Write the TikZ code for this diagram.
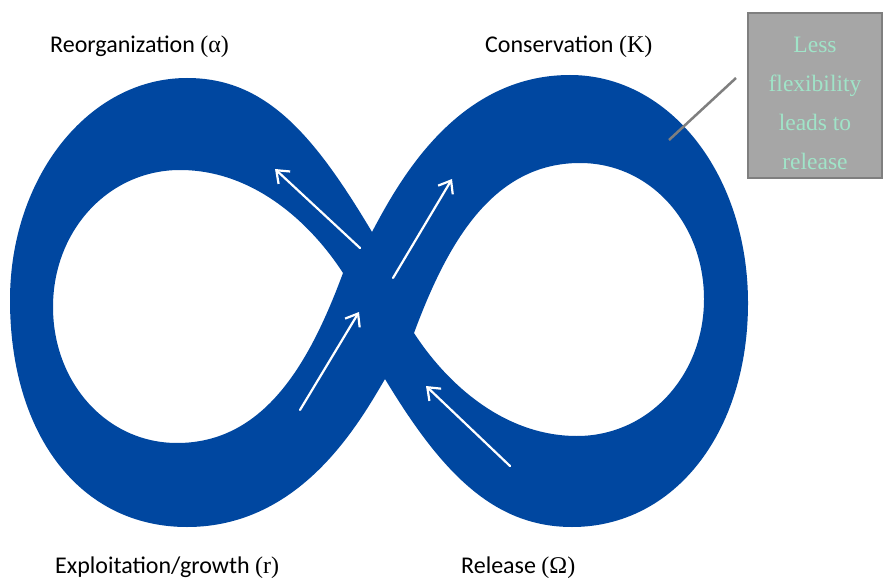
\documentclass[tikz,border=0pt]{standalone}
\usepackage{fontspec}
\setmainfont{Carlito}
\newfontfamily\serifpart{Liberation Serif}
\usetikzlibrary{arrows.meta,calc}
\definecolor{infblue}{RGB}{0,71,160}
\definecolor{boxgray}{RGB}{166,166,166}
\definecolor{boxedge}{RGB}{127,127,127}
\definecolor{mint}{RGB}{160,228,200}
\tikzset{
  flowarrow/.style={draw=white, line width=2.2pt, line cap=round,
    -{Straight Barb[length=11pt,width=17pt,line width=2.2pt]}},
  phaselabel/.style={anchor=base west, inner sep=0pt, text=black,
    font=\fontsize{24pt}{28pt}\selectfont},
  notebox/.style={draw=boxedge, line width=2.5pt, fill=boxgray,
    minimum width=134pt, minimum height=165pt, inner sep=0pt},
  notetext/.style={text=mint, align=center, inner sep=0pt,
    font=\serifpart\fontsize{23.5pt}{39pt}\selectfont},
  callout/.style={draw=boxedge, line width=2.5pt}
}
\begin{document}
\begin{tikzpicture}[x=1pt,y=-1pt]
\useasboundingbox (0,0) rectangle (883,580);
\fill[white] (0,0) rectangle (883,580);

% infinity ribbon: outer contour with two holes
\fill[infblue, even odd rule]
  (372,232) .. controls (313,133) and (265,78) .. (187,78)
            .. controls (88,78) and (10,178) .. (10,300)
            .. controls (10,436) and (81,527) .. (187,527)
            .. controls (300,527) and (358,425) .. (385,379)
            .. controls (440,470) and (492,527) .. (572,527)
            .. controls (674,527) and (748,433) .. (748,303)
            .. controls (748,175) and (670,75) .. (570,75)
            .. controls (457,75) and (399,181) .. (372,232) -- cycle
  (343,273) .. controls (312,225) and (255,170) .. (180,170)
            .. controls (109,170) and (53,230) .. (53,307)
            .. controls (53,383) and (107,443) .. (177,443)
            .. controls (265,443) and (310,362) .. (343,273) -- cycle
  (414,333) .. controls (445,381) and (502,436) .. (577,436)
            .. controls (648,436) and (704,376) .. (704,299)
            .. controls (704,223) and (650,163) .. (580,163)
            .. controls (492,163) and (447,244) .. (414,333) -- cycle;

% flow arrows
\coordinate (a1s) at (360,248); \coordinate (a1e) at (275,169);
\coordinate (a2s) at (393,278); \coordinate (a2e) at (452,179);
\coordinate (a3s) at (300,410); \coordinate (a3e) at (359,312);
\coordinate (a4s) at (510,466); \coordinate (a4e) at (426,386);
\draw[flowarrow] (a1s) -- (a1e);
\draw[flowarrow] (a2s) -- (a2e);
\draw[flowarrow] (a3s) -- (a3e);
\draw[flowarrow] (a4s) -- (a4e);

% phase labels
\node[phaselabel] (reorg) at (50,53) {Reorganization {\serifpart(α)}};
\node[phaselabel] (cons) at (485,53) {Conservation {\serifpart(K)}};
\node[phaselabel] (expl) at (55,573) {Exploitation/growth {\serifpart(r)}};
\node[phaselabel] (rel) at (461,573) {Release {\serifpart(Ω)}};

% note box and callout
\node[notebox] (box) at (815,95.5) {};
\node[notetext] (boxtext) at (815,103) {Less\\flexibility\\leads to\\release};
\coordinate (calloutA) at (669,140);
\coordinate (calloutB) at (736,78);
\draw[callout] (calloutA) -- (calloutB);
\end{tikzpicture}
\end{document}
